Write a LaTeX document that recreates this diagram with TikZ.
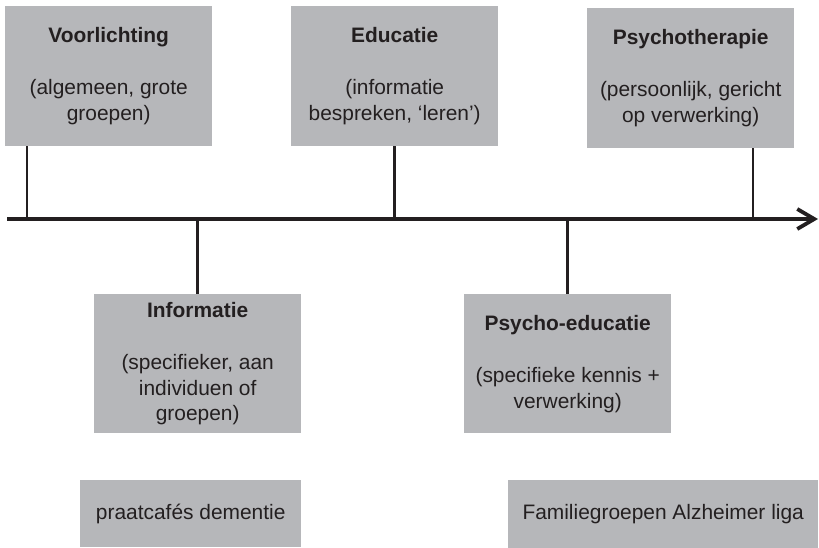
\documentclass[tikz,border=0pt]{standalone}
\usepackage{fontspec}
\setmainfont{Liberation Sans}
\usetikzlibrary{arrows.meta}

\definecolor{blokgrijs}{HTML}{B6B7BA}
\definecolor{inkt}{HTML}{231F20}

\tikzset{
	blok/.style={fill=blokgrijs, text=inkt, align=center, anchor=north west, inner sep=0pt, font=\fontsize{21}{26}\selectfont},
	tak/.style={draw=inkt, line width=2.8bp},
	as/.style={draw=inkt, line width=3.8bp, -{Straight Barb[length=17bp,width=20bp]}}
}

\newcommand{\tlblok}[6]{
	\pgfmathsetmacro{\TBw}{#4-#2}
	\pgfmathsetmacro{\TBh}{#5-#3}
	\node[blok, minimum width=\TBw bp, minimum height=\TBh bp] (#1) at (#2,#3) {#6};
}

\begin{document}
\begin{tikzpicture}[x=1bp,y=-1bp]
\useasboundingbox (0,0) rectangle (819,548);

\pgfmathsetmacro{\tlAs}{219}
\pgfmathsetmacro{\tlKop}{6}
\pgfmathsetmacro{\tlVoet}{146}
\pgfmathsetmacro{\tlOnderKop}{294}
\pgfmathsetmacro{\tlOnderVoet}{433}

\tlblok{voorl}{5}{\tlKop}{212}{\tlVoet}{\textbf{Voorlichting}\\[26bp](algemeen, grote\\groepen)}
\tlblok{educ}{291}{\tlKop}{498}{\tlVoet}{\textbf{Educatie}\\[26bp](informatie\\bespreken, ‘leren’)}
\tlblok{psyth}{587}{8}{794}{148}{\textbf{Psychotherapie}\\[26bp](persoonlijk, gericht\\op verwerking)}

\tlblok{info}{94}{\tlOnderKop}{301}{\tlOnderVoet}{\textbf{Informatie}\\[26bp](specifieker, aan\\individuen of\\groepen)}
\tlblok{psyed}{464}{\tlOnderKop}{671}{\tlOnderVoet}{\textbf{Psycho-educatie}\\[26bp](specifieke kennis +\\verwerking)}

\tlblok{praat}{80}{480}{301}{547}{praatcafés dementie}
\tlblok{famil}{508}{480}{818}{548}{Familiegroepen Alzheimer liga}

\coordinate (begin) at (7,\tlAs);
\coordinate (eind) at (818,\tlAs);
\coordinate (voorlas) at (27,\tlAs);
\coordinate (psythas) at (753,\tlAs);

\draw[tak] (voorlas) -- (voorlas |- voorl.south);
\draw[tak] (educ.south) -- (educ.south |- begin);
\draw[tak] (psythas) -- (psythas |- psyth.south);
\draw[tak] (info.north) -- (info.north |- begin);
\draw[tak] (psyed.north) -- (psyed.north |- begin);

\draw[as] (begin) -- (eind);
\end{tikzpicture}
\end{document}
